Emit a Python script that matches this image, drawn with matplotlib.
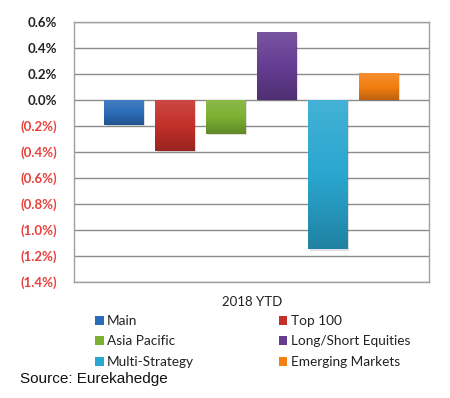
import matplotlib
matplotlib.use("Agg")
import matplotlib.pyplot as plt
import numpy as np
from matplotlib.patches import Patch
from matplotlib.colors import LinearSegmentedColormap, to_rgb

categories = ["Main", "Top 100", "Asia Pacific", "Long/Short Equities", "Multi-Strategy", "Emerging Markets"]
values = [-0.19, -0.39, -0.26, 0.52, -1.15, 0.205]
colors = ["#2b6cb8", "#c42f2a", "#7cb032", "#663d93", "#2aa7d0", "#f47f12"]
yticks = [0.6, 0.4, 0.2, 0.0, -0.2, -0.4, -0.6, -0.8, -1.0, -1.2, -1.4]
xlabel = "2018 YTD"
source = "Source: Eurekahedge"

plt.rcParams['font.family'] = ['Lato', 'DejaVu Sans']

fig = plt.figure(figsize=(4.5, 3.98), dpi=100)
ax = fig.add_axes([0.1644, 0.2915, 0.789, 0.654])

x = list(range(len(categories)))
bars = ax.bar(x, values, width=0.78, color=colors, zorder=3)


def shade(c, f):
    r, g, b = to_rgb(c)
    if f >= 1:
        return (r + (1 - r) * (f - 1), g + (1 - g) * (f - 1), b + (1 - b) * (f - 1))
    return (r * f, g * f, b * f)


grad = np.linspace(0, 1, 64).reshape(-1, 1)
for b, c in zip(bars, colors):
    x0, y0 = b.get_x(), b.get_y()
    w, h = b.get_width(), b.get_height()
    cmap = LinearSegmentedColormap.from_list("g", [shade(c, 0.78), c, shade(c, 1.12)])
    ylo, yhi = min(y0, y0 + h), max(y0, y0 + h)
    im = ax.imshow(grad, extent=[x0, x0 + w, ylo, yhi], origin='lower',
                   aspect='auto', cmap=cmap, zorder=4)
    im.set_clip_path(b)
    # soft shadow
    ax.bar(x0 + w / 2 + 0.03, h, width=w, bottom=y0 - 0.012, color='#000000',
           alpha=0.12, zorder=2)

ax.set_xlim(-0.98, 5.98)
ax.set_ylim(-1.4, 0.6)
ax.set_yticks(yticks)
labels = []
for v in yticks:
    if v < 0:
        labels.append("({:.1f}%)".format(abs(v)))
    else:
        labels.append("{:.1f}%".format(v))
ax.set_yticklabels(labels, fontsize=9.5, fontweight='bold')
for t, v in zip(ax.get_yticklabels(), yticks):
    t.set_color("#e8403a" if v < 0 else "#222222")
ax.tick_params(axis='y', length=0, pad=12)
ax.set_xticks([])
ax.grid(axis='y', color='#8c8c8c', linewidth=1.0, zorder=0)
for s in ax.spines.values():
    s.set_color('#a0a0a0')
    s.set_linewidth(1.0)

fig.text(252 / 450, 1 - 302 / 398, xlabel, ha='center', va='center', fontsize=9.5, color='#222222')

order = [0, 2, 4, 1, 3, 5]
handles = [Patch(facecolor=colors[i], label=categories[i]) for i in order]
leg = fig.legend(handles=handles, ncol=2, loc='upper left',
                 bbox_to_anchor=(95 / 450, 1 - 315 / 398), frameon=False,
                 fontsize=9.8, handlelength=0.65, handleheight=0.65,
                 handletextpad=0.25, columnspacing=6.2, labelspacing=0.62,
                 borderaxespad=0, borderpad=0)
for t in leg.get_texts():
    t.set_color('#222222')

fig.text(20 / 450, 1 - 379 / 398, source, ha='left', va='center', fontsize=11,
         family=['Liberation Sans', 'DejaVu Sans'], color='#111111')

fig.savefig("out.png", dpi=100)
